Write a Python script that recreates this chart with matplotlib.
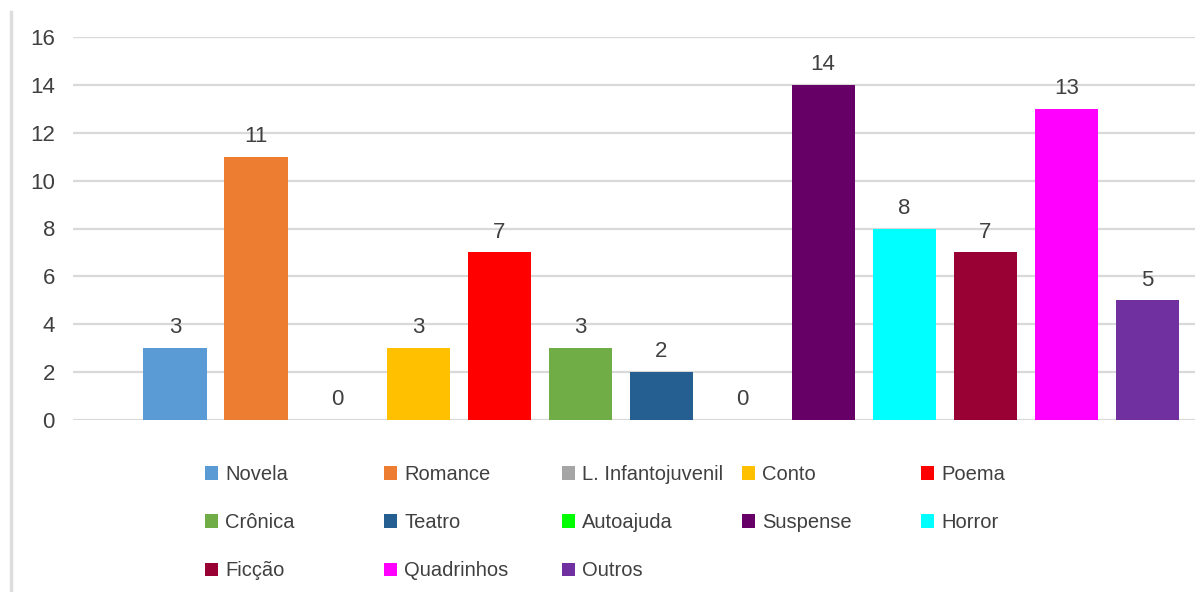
import numpy as np
import matplotlib
matplotlib.use('Agg')
import matplotlib.pyplot as plt
from matplotlib.lines import Line2D

plt.rcParams['font.family'] = ['Liberation Sans', 'DejaVu Sans']

generos = ['Novela', 'Romance', 'L. Infantojuvenil', 'Conto', 'Poema',
           'Crônica', 'Teatro', 'Autoajuda', 'Suspense', 'Horror',
           'Ficção', 'Quadrinhos', 'Outros']
votos = [3, 11, 0, 3, 7, 3, 2, 0, 14, 8, 7, 13, 5]
cores = ['#5B9BD5', '#ED7D31', '#A5A5A5', '#FFC000', '#FF0000',
         '#70AD47', '#255E91', '#00FF00', '#660066', '#00FFFF',
         '#990033', '#FF00FF', '#7030A0']
yticks = [0, 2, 4, 6, 8, 10, 12, 14, 16]

txt = '#404040'
W, H = 1195, 592

fig = plt.figure(figsize=(W / 100, H / 100), dpi=100)
ax = fig.add_axes([73 / W, 1 - 420 / H, 1 - 73 / W, (420 - 37) / H])

x = np.arange(len(generos))
for i in range(len(generos)):
    b = ax.bar(x[i], votos[i], width=0.78, color=cores[i], label=generos[i], zorder=3)
    ax.bar_label(b, padding=7, fontsize=16, color=txt)

ax.set_xlim(-1.26, 12.59)
ax.set_ylim(0, 16)
ax.set_yticks(yticks)
ax.set_xticks([])
ax.tick_params(axis='y', length=0, pad=13, labelsize=16, labelcolor=txt)
ax.grid(axis='y', color='#D9D9D9', linewidth=1.6, zorder=0)
for s in ax.spines.values():
    s.set_visible(False)

# legend: 5 columns with equal spacing, like the spreadsheet does
handles, labels = ax.get_legend_handles_labels()
col_x = [205, 384, 562, 742, 921]
for c in range(5):
    idx = list(range(c, len(generos), 5))
    fig.legend([handles[i] for i in idx], [labels[i] for i in idx],
               loc='upper left', bbox_to_anchor=(col_x[c] / W, 1 - 465 / H),
               frameon=False, fontsize=14.5, labelcolor=txt,
               handlelength=0.65, handleheight=0.65, handletextpad=0.35,
               labelspacing=1.45, borderpad=0, borderaxespad=0)

# thin page border on the left
fig.add_artist(Line2D([11 / W, 11 / W], [0, 1 - 12 / H], color='#DDDDDD', linewidth=2.5))

fig.savefig('out.png', dpi=100, facecolor='white')
